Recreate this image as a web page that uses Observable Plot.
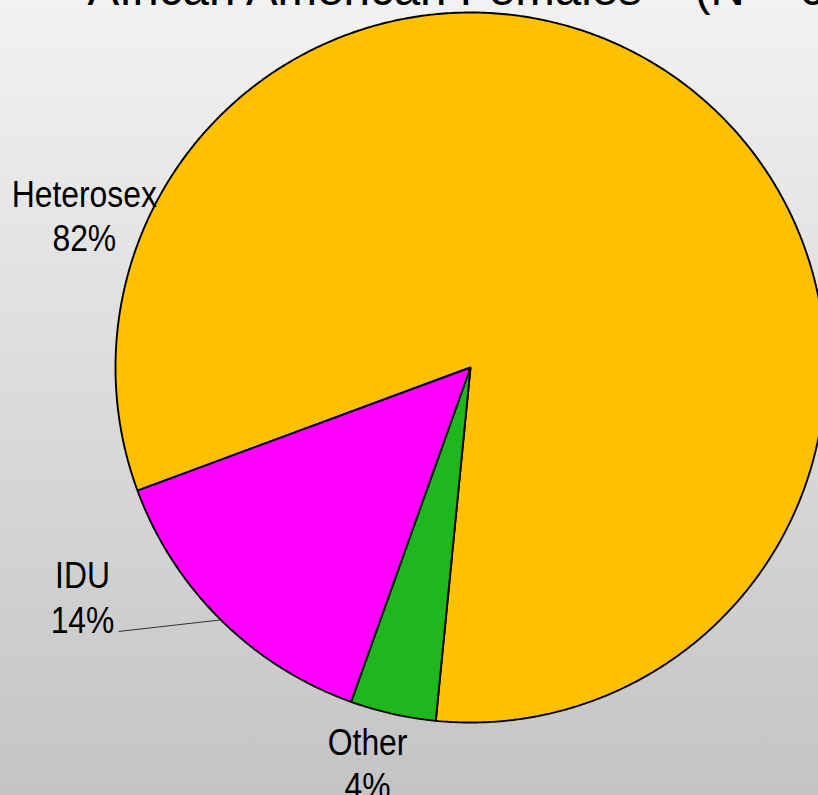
<!DOCTYPE html>
<html><head><meta charset="utf-8">
<script src="https://cdn.jsdelivr.net/npm/d3@7"></script>
<script src="https://cdn.jsdelivr.net/npm/@observablehq/plot@0.6"></script>
<style>
html,body{margin:0;padding:0;}
body{width:818px;height:795px;overflow:hidden;background:linear-gradient(to bottom,#f2f2f2 0%,#c4c4c4 100%);}
#chart svg{display:block;}
</style></head><body><div id="chart"></div>
<script>
// ---- data ----
const title = "African American Females \u2013 (N = 6,073)";
const categories = ["Heterosex", "Other", "IDU"];
const percents = [82.2, 3.9, 13.9];
const colors = ["#FFC000", "#1EB71E", "#FF00FF"];

// ---- layout (pixels / degrees) ----
const W = 818, H = 795, CX = 470, CY = 367, R = 355;
const startDeg = -110.3;
// label centre, polar: angle (deg, clockwise from 12 o'clock) and radius factor
const labelLayout = {Heterosex: [-68.4, 1.17], Other: [194.6, 1.15], IDU: [239.45, 1.269]};
const leaderFrom = {IDU: [36, 35]}; // pixel offset from label centre
const labelFont = "'Liberation Sans',Arial,sans-serif";
const narrow = 0.85;

const rad = d => d * Math.PI / 180;
const pie = d3.pie().sort(null).value(d => d.value)
  .startAngle(rad(startDeg)).endAngle(rad(startDeg + 360));
const rows = categories.map((c, i) => ({key: c, value: percents[i]}));
const arcs = pie(rows);

const polar = (a, r) => ({u: r * Math.sin(a), v: -r * Math.cos(a)});
const slicePts = [];
for (const a of arcs) {
  slicePts.push({key: a.data.key, u: 0, v: 0});
  const n = Math.max(2, Math.ceil((a.endAngle - a.startAngle) / rad(0.5)));
  for (let k = 0; k <= n; k++) {
    const t = a.startAngle + (a.endAngle - a.startAngle) * k / n;
    slicePts.push({key: a.data.key, ...polar(t, 1)});
  }
}

const labels = arcs.map(a => {
  const [deg, r] = labelLayout[a.data.key];
  return {key: a.data.key, text: a.data.key + "\n" + Math.round(a.data.value) + "%", ...polar(rad(deg), r)};
});

const leaders = arcs.filter(a => leaderFrom[a.data.key]).map(a => {
  const lab = labels.find(l => l.key === a.data.key);
  const [ox, oy] = leaderFrom[a.data.key];
  const mid = polar((a.startAngle + a.endAngle) / 2, 1.0);
  return {x1: lab.u + ox / R, y1: lab.v + oy / R, x2: mid.u, y2: mid.v};
});

const chart = Plot.plot({
  width: W, height: H, margin: 0,
  style: {background: "transparent"},
  x: {axis: null, domain: [-CX / R, (W - CX) / R], range: [0, W]},
  y: {axis: null, domain: [-CY / R, (H - CY) / R], range: [0, H]},
  color: {domain: categories, range: colors},
  marks: [
    Plot.line(slicePts, {x: "u", y: "v", z: "key", fill: "key", stroke: "black",
      strokeWidth: 1.9, curve: "linear-closed", strokeLinejoin: "miter"}),
    Plot.link(leaders, {x1: "x1", y1: "y1", x2: "x2", y2: "y2", stroke: "#333", strokeWidth: 1}),
    Plot.text(labels, {x: "u", y: "v", text: "text", fontSize: 37.5, lineHeight: 1.19,
      fontFamily: labelFont, fill: "black"}),
    Plot.text([title], {frameAnchor: "top-left", dx: 87, dy: 4, textAnchor: "start",
      lineAnchor: "bottom", fontSize: 47.5, fontFamily: "'Liberation Sans',Arial,sans-serif", fill: "black"})
  ]
});
// condense the slice labels horizontally (the reference uses a narrow face)
const textGroups = chart.querySelectorAll('g[aria-label="text"]');
if (textGroups.length) {
  textGroups[0].querySelectorAll("text").forEach(el => {
    const x = el.getAttribute("x"), y = el.getAttribute("y");
    let t = el.getAttribute("transform") || "";
    if (x != null || y != null) {
      t = `translate(${+x || 0},${+y || 0}) ` + t;
      el.removeAttribute("x"); el.removeAttribute("y");
    }
    el.setAttribute("transform", t + ` scale(${narrow},1)`);
  });
}
document.getElementById("chart").append(chart);
</script>
</body></html>
